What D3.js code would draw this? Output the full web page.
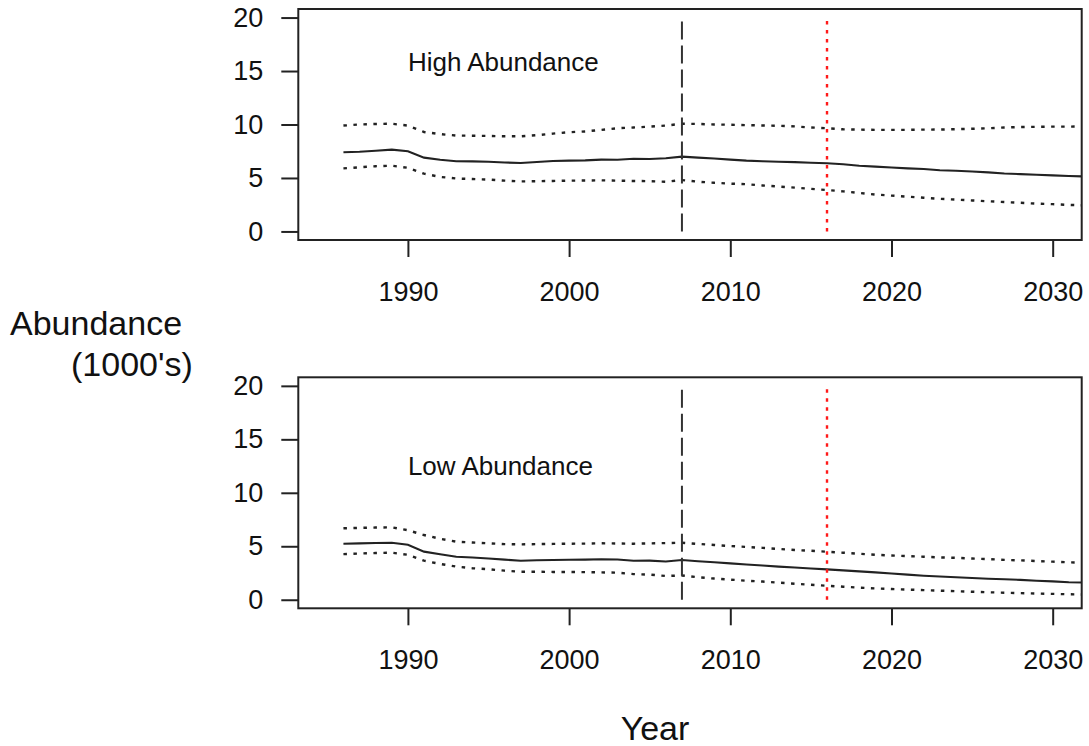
<!DOCTYPE html>
<html>
<head>
<meta charset="utf-8">
<script src="https://cdn.jsdelivr.net/npm/d3@7"></script>
<style>
  body { margin: 0; background: #fff; }
  svg { display: block; font-family: "Liberation Sans", Arial, Helvetica, sans-serif; }
</style>
</head>
<body>
<svg id="chart" width="1089" height="746"></svg>
<script>
const years = d3.range(1986, 2033);

const highMid = [7.4,7.45,7.55,7.65,7.5,6.9,6.7,6.56,6.55,6.52,6.45,6.4,6.5,6.58,6.62,6.65,6.72,6.7,6.8,6.78,6.85,7.0,6.9,6.82,6.72,6.62,6.56,6.52,6.48,6.42,6.37,6.28,6.15,6.06,5.98,5.9,5.84,5.72,5.68,5.6,5.52,5.42,5.36,5.3,5.24,5.18,5.14];
const highUpper = [9.9,10.0,10.05,10.07,9.9,9.3,9.1,8.97,8.95,8.93,8.9,8.9,9.0,9.15,9.28,9.35,9.5,9.65,9.72,9.8,9.9,10.07,10.05,10.0,9.98,9.94,9.91,9.88,9.82,9.72,9.65,9.55,9.52,9.5,9.5,9.5,9.52,9.53,9.56,9.6,9.65,9.72,9.76,9.78,9.8,9.8,9.82];
const highLower = [5.9,6.0,6.1,6.15,5.95,5.4,5.1,4.95,4.9,4.85,4.75,4.68,4.7,4.72,4.75,4.76,4.78,4.75,4.72,4.7,4.65,4.8,4.65,4.55,4.47,4.42,4.3,4.2,4.1,3.98,3.87,3.75,3.6,3.45,3.35,3.25,3.15,3.05,2.98,2.9,2.82,2.75,2.68,2.6,2.55,2.48,2.44];

const lowMid = [5.24,5.27,5.3,5.33,5.15,4.5,4.25,4.02,3.95,3.86,3.75,3.65,3.7,3.72,3.74,3.75,3.78,3.77,3.65,3.66,3.58,3.71,3.6,3.5,3.4,3.3,3.2,3.1,3.02,2.92,2.84,2.75,2.65,2.56,2.45,2.35,2.25,2.17,2.1,2.03,1.97,1.92,1.86,1.78,1.72,1.64,1.6];
const lowUpper = [6.68,6.72,6.75,6.77,6.5,6.05,5.7,5.43,5.35,5.28,5.2,5.18,5.2,5.22,5.24,5.25,5.28,5.26,5.24,5.27,5.3,5.33,5.22,5.12,5.02,4.94,4.85,4.75,4.65,4.58,4.49,4.4,4.3,4.2,4.14,4.08,4.02,3.96,3.92,3.85,3.8,3.73,3.68,3.62,3.56,3.5,3.47];
const lowLower = [4.27,4.32,4.37,4.4,4.2,3.65,3.35,3.1,2.95,2.85,2.72,2.62,2.62,2.6,2.6,2.58,2.56,2.53,2.4,2.35,2.22,2.27,2.1,1.98,1.88,1.78,1.7,1.6,1.5,1.4,1.31,1.22,1.13,1.06,1.0,0.95,0.9,0.85,0.8,0.75,0.7,0.66,0.62,0.58,0.55,0.51,0.49];

const xTicks = [1990, 2000, 2010, 2020, 2030];
const yTicks = [0, 5, 10, 15, 20];
const xDomain = [1983.2, 2031.8];
const yDomain = [-0.8, 20.8];
const refDashed = 2007;
const refDotted = 2016;

const panels = [
  { label: "High Abundance", labelAt: [1990, 15.8], mid: highMid, upper: highUpper, lower: highLower, top: 9, bottom: 240 },
  { label: "Low Abundance",  labelAt: [1990, 12.5], mid: lowMid,  upper: lowUpper,  lower: lowLower,  top: 377.3, bottom: 608.3 }
];

const svg = d3.select("#chart");
const left = 298.3, right = 1081.7;
const x = d3.scaleLinear().domain(xDomain).range([left, right]);
const ink = "#222";

panels.forEach((p, i) => {
  const y = d3.scaleLinear().domain(yDomain).range([p.bottom, p.top]);
  const g = svg.append("g");
  const clipId = "clip" + i;
  svg.append("clipPath").attr("id", clipId).append("rect")
    .attr("x", left).attr("y", p.top).attr("width", right - left).attr("height", p.bottom - p.top);

  const plot = g.append("g").attr("clip-path", `url(#${clipId})`);
  const line = d3.line().x((d, j) => x(years[j])).y(d => y(d));

  plot.append("path").datum(p.upper).attr("d", line)
    .attr("fill", "none").attr("stroke", ink).attr("stroke-width", 2.4).attr("stroke-dasharray", "3.5,6.5");
  plot.append("path").datum(p.lower).attr("d", line)
    .attr("fill", "none").attr("stroke", ink).attr("stroke-width", 2.4).attr("stroke-dasharray", "3.5,6.5");
  plot.append("path").datum(p.mid).attr("d", line)
    .attr("fill", "none").attr("stroke", ink).attr("stroke-width", 2.1);

  // reference lines
  plot.append("line")
    .attr("x1", x(refDashed)).attr("x2", x(refDashed))
    .attr("y1", y(0)).attr("y2", y(20))
    .attr("stroke", "#333").attr("stroke-width", 2).attr("stroke-dasharray", "18,6");
  plot.append("line")
    .attr("x1", x(refDotted)).attr("x2", x(refDotted))
    .attr("y1", y(0)).attr("y2", y(20))
    .attr("stroke", "#ff1a1a").attr("stroke-width", 2.4).attr("stroke-dasharray", "3.5,5.5");

  // box
  g.append("rect").attr("x", left).attr("y", p.top)
    .attr("width", right - left).attr("height", p.bottom - p.top)
    .attr("fill", "none").attr("stroke", ink).attr("stroke-width", 2);

  // y axis
  const yAxis = d3.axisLeft(y).tickValues(yTicks).tickSize(17).tickPadding(18).tickFormat(d3.format("d"));
  const ya = g.append("g").attr("transform", `translate(${left},0)`).call(yAxis);
  ya.select(".domain").remove();
  ya.selectAll(".tick line").attr("stroke", ink).attr("stroke-width", 2);
  ya.selectAll(".tick text").attr("font-size", 27).attr("fill", "#111")
    .attr("font-family", "Liberation Sans, Arial, sans-serif");

  // x axis
  const xAxis = d3.axisBottom(x).tickValues(xTicks).tickSize(17).tickPadding(25).tickFormat(d3.format("d"));
  const xa = g.append("g").attr("transform", `translate(0,${p.bottom})`).call(xAxis);
  xa.select(".domain").remove();
  xa.selectAll(".tick line").attr("stroke", ink).attr("stroke-width", 2);
  xa.selectAll(".tick text").attr("font-size", 27).attr("fill", "#111")
    .attr("font-family", "Liberation Sans, Arial, sans-serif");

  // panel label
  g.append("text").attr("x", x(p.labelAt[0])).attr("y", y(p.labelAt[1]))
    .attr("dominant-baseline", "central").attr("font-size", 26).attr("fill", "#111")
    .text(p.label);
});

svg.append("text").attr("x", 10).attr("y", 335).attr("font-size", 34).attr("fill", "#111").text("Abundance");
svg.append("text").attr("x", 71).attr("y", 376).attr("font-size", 34).attr("fill", "#111").text("(1000's)");
svg.append("text").attr("x", 655).attr("y", 740).attr("text-anchor", "middle").attr("font-size", 34).attr("fill", "#111").text("Year");
</script>
</body>
</html>
